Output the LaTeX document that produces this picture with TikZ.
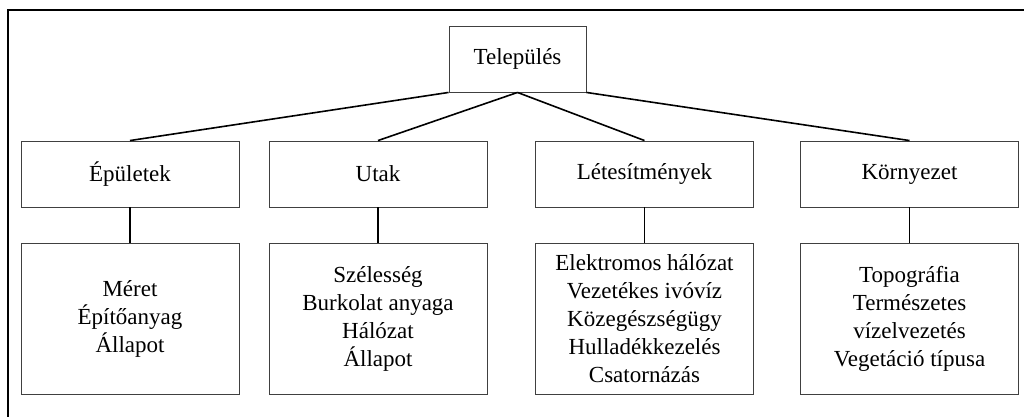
\documentclass[tikz,border=0pt]{standalone}
\usepackage{fontspec}
\setmainfont{Liberation Serif}

\begin{document}
\begin{tikzpicture}[x=1pt,y=-1pt]
            \tikzstyle{box}=[draw=black!75,line width=0.9pt,align=center,inner sep=0pt,font=\fontsize{23}{28}\selectfont]
            \tikzstyle{group}=[box,minimum width=218pt,minimum height=66pt]
            \tikzstyle{items}=[box,minimum width=218pt,minimum height=151pt]
            \tikzstyle{link}=[line width=1.6pt]
            \clip (0,0) rectangle (1024,417);
            \draw[line width=2pt] (8,440) -- (8,10) -- (1040,10);
            \node[box,minimum width=137pt,minimum height=66pt] (telepules) at (517.5,59) {Település};
            \node[group] (epuletek) at (130,174) {Épületek};
            \node[group] (utak) at (378,174) {Utak};
            \node[group] (letesitmenyek) at (644.5,174) {Létesítmények};
            \node[group] (kornyezet) at (909.5,174) {Környezet};
            \node[items] (epuletek-list) at (130,318.5) {Méret\\Építőanyag\\Állapot};
            \node[items] (utak-list) at (378,318.5) {Szélesség\\Burkolat anyaga\\Hálózat\\Állapot};
            \node[items] (letesitmenyek-list) at (644.5,318.5) {Elektromos hálózat\\Vezetékes ivóvíz\\Közegészségügy\\Hulladékkezelés\\Csatornázás};
            \node[items] (kornyezet-list) at (909.5,318.5) {Topográfia\\Természetes\\vízelvezetés\\Vegetáció típusa};
            \draw[link] (telepules.south west) -- (epuletek.north);
            \draw[link] (telepules.south) -- (utak.north);
            \draw[link] (telepules.south) -- (letesitmenyek.north);
            \draw[link] (telepules.south east) -- (kornyezet.north);
            \foreach \name in {epuletek,utak,letesitmenyek,kornyezet}
                \draw[link] (\name.south) -- (\name-list.north);
        \end{tikzpicture}
\end{document}
